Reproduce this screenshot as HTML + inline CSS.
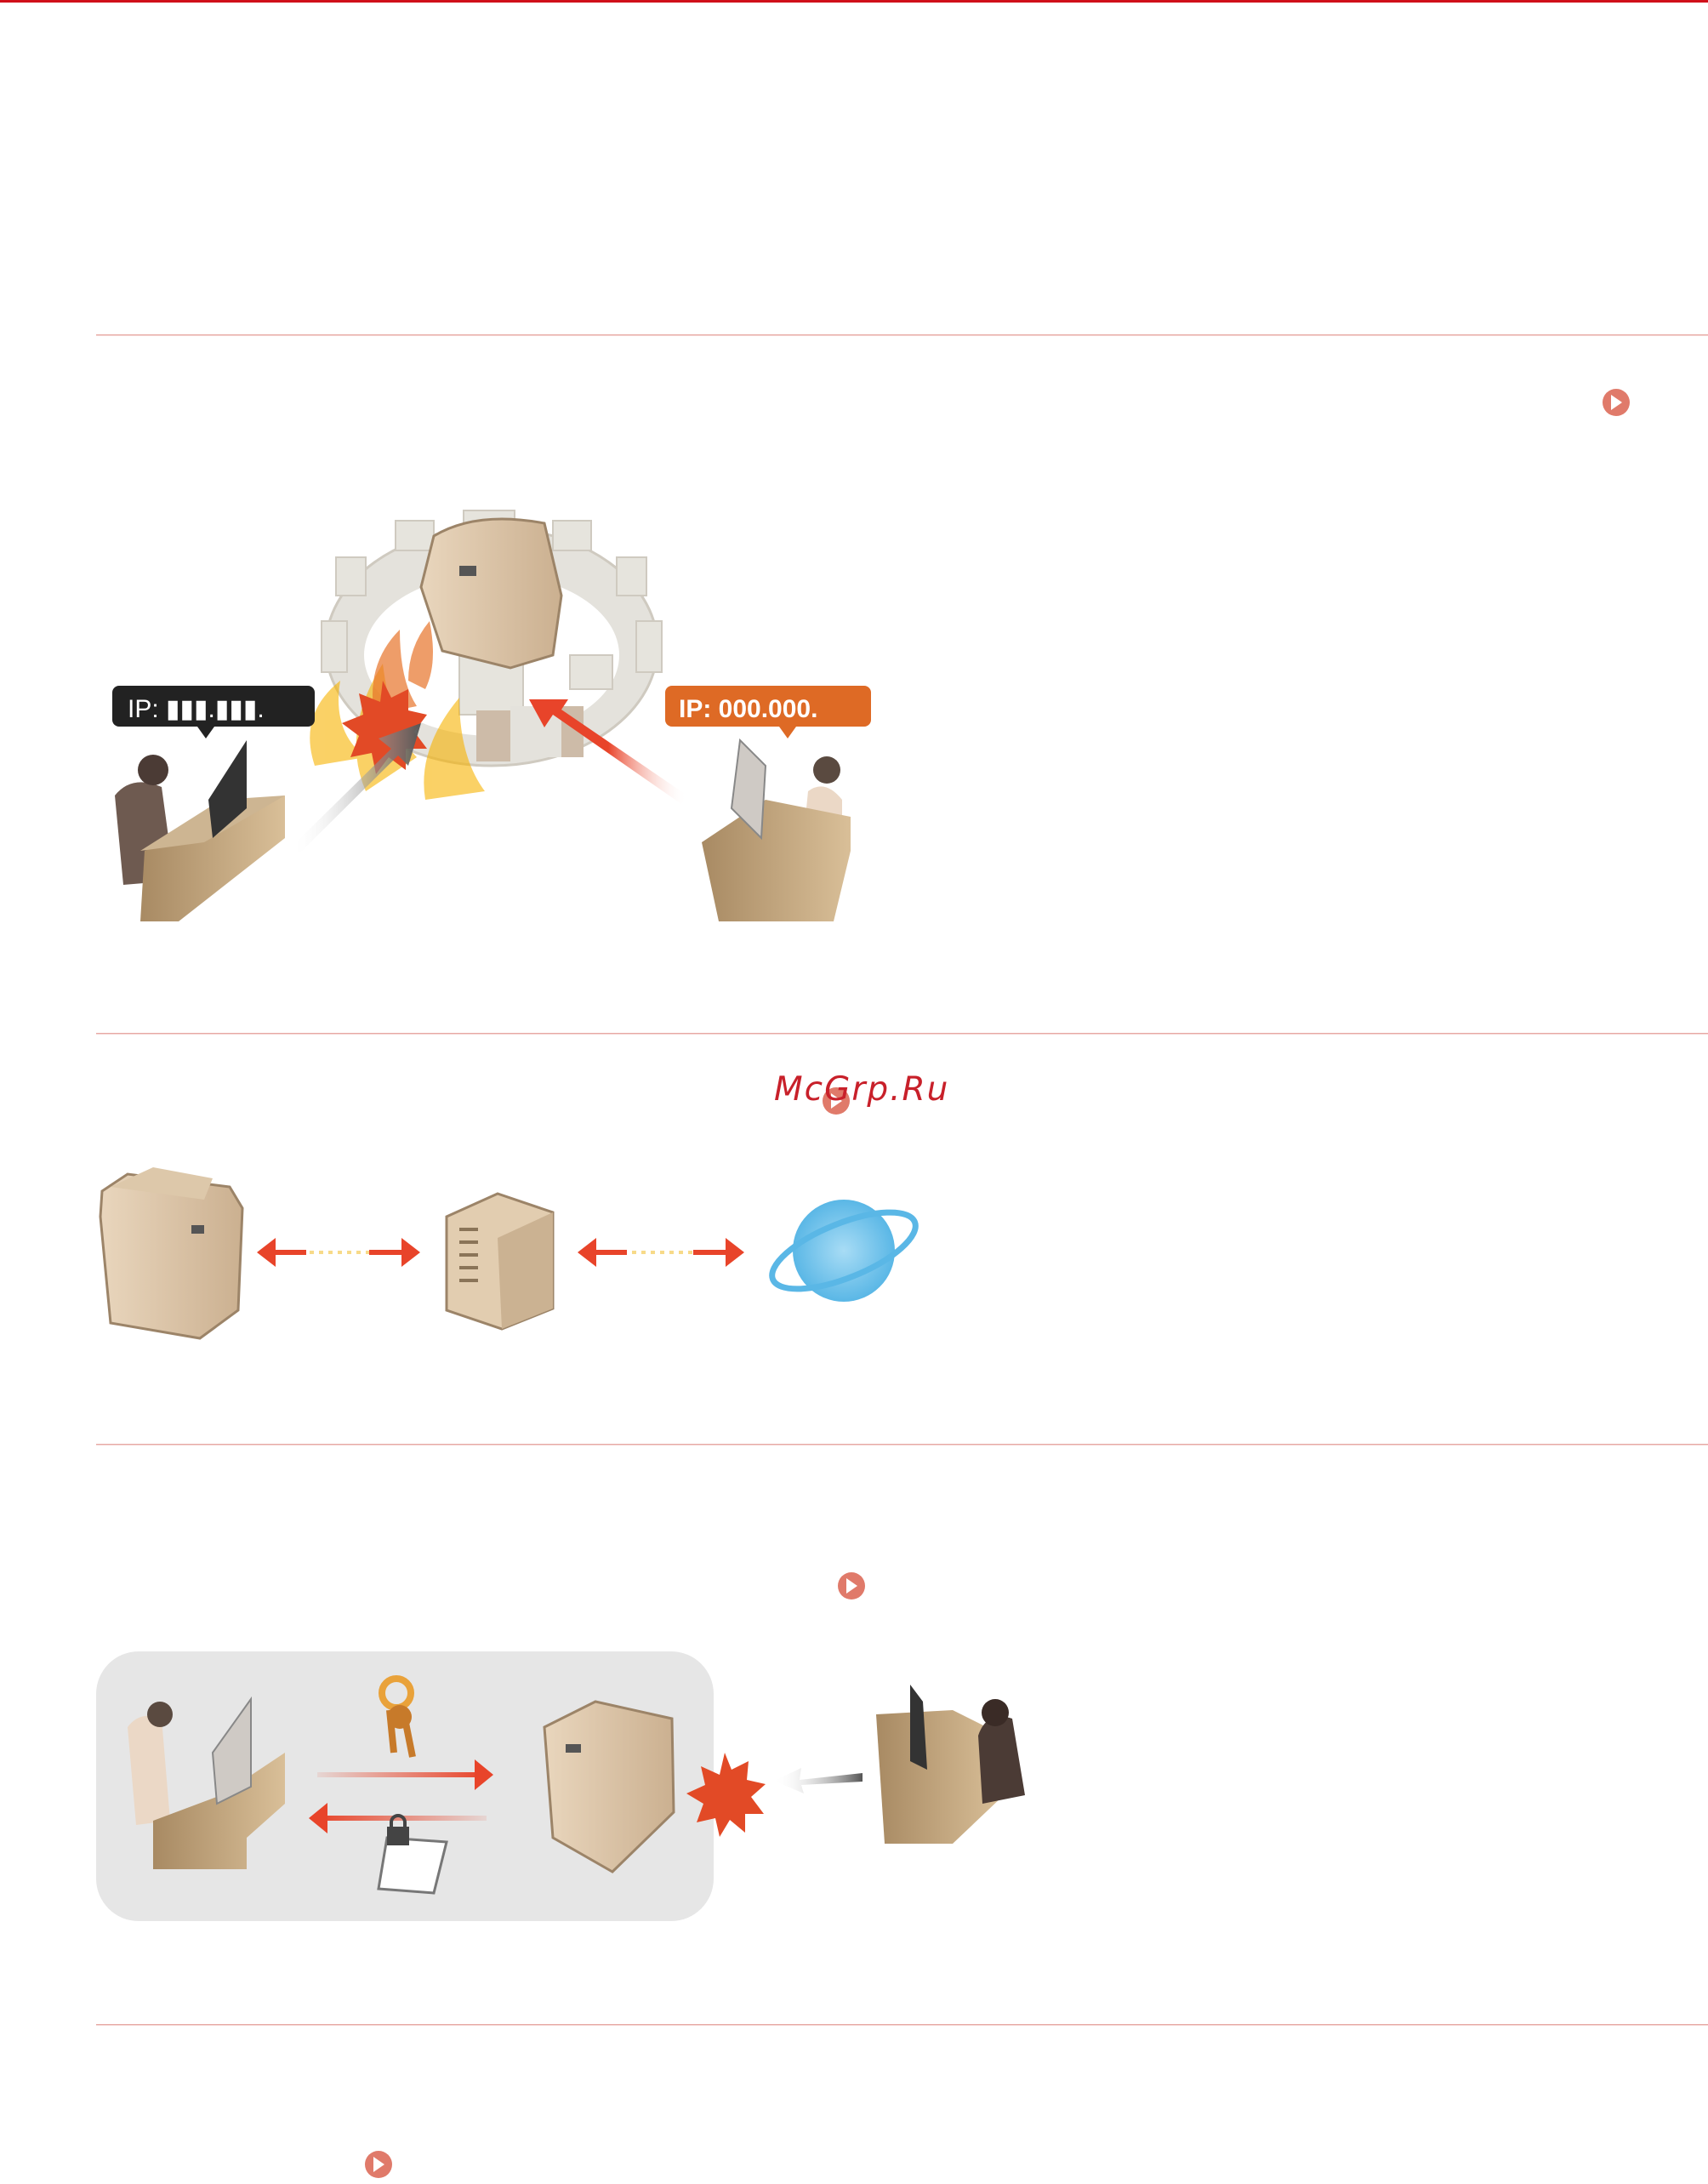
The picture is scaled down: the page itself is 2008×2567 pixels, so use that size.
<!DOCTYPE html>
<html><head><meta charset="utf-8"><style>
html,body{margin:0;padding:0;background:#fff;}
body{width:2008px;height:2567px;position:relative;overflow:hidden;font-family:"Liberation Sans",sans-serif;}
.wm{position:absolute;left:910px;top:1258px;font-size:39px;font-style:italic;color:#c8202a;letter-spacing:2px;font-family:"DejaVu Sans","Liberation Sans",sans-serif;}
</style></head><body>
<svg width="2008" height="2567" viewBox="0 0 2008 2567" style="position:absolute;left:0;top:0">
<defs>
<linearGradient id="desk" x1="0" x2="1"><stop offset="0" stop-color="#a88a63"/><stop offset="1" stop-color="#d9bf98"/></linearGradient>
<linearGradient id="prn" x1="0" x2="1"><stop offset="0" stop-color="#e9d6bd"/><stop offset="1" stop-color="#cbb090"/></linearGradient>
<linearGradient id="ga" x1="0" x2="1"><stop offset="0" stop-color="#fff" stop-opacity="0"/><stop offset="1" stop-color="#555"/></linearGradient>
<linearGradient id="ra" x1="1" x2="0"><stop offset="0" stop-color="#fff" stop-opacity="0"/><stop offset=".5" stop-color="#e8442a"/></linearGradient>
<linearGradient id="rl" x1="0" x2="1"><stop offset="0" stop-color="#e8442a" stop-opacity="0.1"/><stop offset="1" stop-color="#e8442a"/></linearGradient>
<linearGradient id="rr" x1="1" x2="0"><stop offset="0" stop-color="#e8442a" stop-opacity="0.1"/><stop offset="1" stop-color="#e8442a"/></linearGradient>
<radialGradient id="glb"><stop offset="0" stop-color="#a8dcf5"/><stop offset="1" stop-color="#5ab7e6"/></radialGradient>
</defs>
<rect x="0" y="0" width="2008" height="3" fill="#d0101a"/>
<g fill="#e7a9a4"><rect x="113" y="393" width="1895" height="1.5"/><rect x="113" y="1214" width="1895" height="1.5"/><rect x="113" y="1697" width="1895" height="1.5"/><rect x="113" y="2379" width="1895" height="1.5"/></g>
<g fill="#e07a6a"><circle cx="1900" cy="473" r="16"/><circle cx="983" cy="1294" r="16"/><circle cx="1001" cy="1864" r="16"/><circle cx="445" cy="2544" r="16"/></g>
<g fill="#fff"><path d="M1894 464l13 9-13 9z"/><path d="M977 1285l13 9-13 9z"/><path d="M995 1855l13 9-13 9z"/><path d="M439 2535l13 9-13 9z"/></g>

<!-- Illustration 1 -->
<ellipse cx="578" cy="760" rx="195" ry="140" fill="#e4e2dc" stroke="#cfcac0" stroke-width="3"/>
<ellipse cx="578" cy="770" rx="150" ry="95" fill="#fff"/>
<g fill="#e6e4dd" stroke="#cfcac0" stroke-width="2">
<rect x="545" y="600" width="60" height="25"/><rect x="465" y="612" width="45" height="35"/><rect x="650" y="612" width="45" height="35"/><rect x="395" y="655" width="35" height="45"/><rect x="725" y="655" width="35" height="45"/><rect x="378" y="730" width="30" height="60"/><rect x="748" y="730" width="30" height="60"/>
<rect x="540" y="770" width="75" height="70"/><rect x="670" y="770" width="50" height="40"/>
</g>
<rect x="560" y="835" width="40" height="60" fill="#cdbba8"/><rect x="658" y="830" width="28" height="60" fill="#cdbba8"/><rect x="600" y="830" width="60" height="60" fill="#e4e2dc"/>
<path d="M510 630 Q560 600 640 615 L660 700 L650 770 L600 785 L520 765 L495 690Z" fill="url(#prn)" stroke="#9c8468" stroke-width="3"/>
<rect x="540" y="665" width="20" height="12" fill="#555"/>
<g fill="#f7b300" opacity=".6"><path d="M370 900 q-20 -60 30 -100 q-10 60 30 90z"/><path d="M430 930 q-30 -70 20 -150 q10 80 40 110z"/><path d="M500 940 q-10 -60 40 -120 q0 70 30 110z"/></g>
<g fill="#e8742a" opacity=".7"><path d="M440 840 q-10 -60 30 -100 q0 60 20 90z"/><path d="M480 800 q0 -40 25 -70 q10 50 -5 80z"/></g>
<path d="M450 800 l10 20 20-10 0 25 22 5-15 20 15 20-25 0 0 25-20-15-15 20-5-25-25 5 10-25-20-15 25-10-5-25 25 10z" fill="#e24a26"/>
<polygon points="343,995 460,880 445,868 495,850 480,900 468,888 352,1003" fill="url(#ga)"/>
<polygon points="801,945 650,840 640,855 622,822 668,822 660,834 808,935" fill="url(#ra)"/>
<rect x="132" y="806" width="238" height="48" rx="8" fill="#222"/><path d="M232 854l10 14 10-14z" fill="#222"/>
<text x="150" y="843" font-size="30" fill="#fff" font-family="Liberation Sans">IP: ▮▮▮.▮▮▮.</text>
<rect x="782" y="806" width="242" height="48" rx="8" fill="#de6a25"/><path d="M916 854l10 14 10-14z" fill="#de6a25"/>
<text x="798" y="843" font-size="30" fill="#fff" font-weight="bold" font-family="Liberation Sans">IP: 000.000.</text>
<path d="M135 935 q20 -25 55 -10 l15 110 -60 5z" fill="#6e5a50"/><circle cx="180" cy="905" r="18" fill="#4b3b35"/>
<path d="M170 1000 L335 935 L335 985 L210 1083 L165 1083Z" fill="url(#desk)"/><path d="M165 1000 L240 990 L335 935 L260 940Z" fill="#cdb592"/>
<path d="M245 940 L290 870 L290 950 L250 985Z" fill="#333"/>
<path d="M990 940 q-20 -25 -40 -10 l-10 100 50 5z" fill="#ebd8c6"/><circle cx="972" cy="905" r="16" fill="#5a4a40"/>
<path d="M825 990 L900 940 L1000 960 L1000 1000 L980 1083 L845 1083Z" fill="url(#desk)"/>
<path d="M860 950 L870 870 L900 900 L895 985Z" fill="#cfcac5" stroke="#888" stroke-width="2"/>

<!-- Illustration 2 -->
<path d="M120 1400 L150 1380 L270 1395 L285 1420 L280 1540 L235 1573 L130 1555 L118 1430Z" fill="url(#prn)" stroke="#9c8468" stroke-width="3"/>
<path d="M130 1395 L180 1372 L250 1385 L240 1410 Z" fill="#ddc8aa"/><rect x="225" y="1440" width="15" height="10" fill="#555"/>
<path d="M525 1430 L585 1403 L650 1425 L650 1538 L590 1562 L525 1540Z" fill="#e2cdb0" stroke="#9c8468" stroke-width="3"/>
<path d="M585 1455 L650 1425 L650 1538 L590 1562Z" fill="#cbb292"/>
<g stroke="#8a7458" stroke-width="4"><path d="M540 1445h22M540 1460h22M540 1475h22M540 1490h22M540 1505h22"/></g>
<path d="M320 1472h150" stroke="url(#rl)" stroke-width="6" stroke-dasharray="6 6"/>
<path d="M320 1472h160M710 1472h150" stroke="#f2c33b" stroke-width="4" stroke-dasharray="5 6" opacity=".6"/>
<path d="M302 1472l22-17v34z M494 1472l-22-17v34z M679 1472l22-17v34z M875 1472l-22-17v34z" fill="#e8442a"/>
<path d="M320 1472h40M434 1472h40M697 1472h40M815 1472h40" stroke="#e8442a" stroke-width="6"/>
<circle cx="992" cy="1470" r="60" fill="url(#glb)"/>
<ellipse cx="992" cy="1470" rx="90" ry="32" fill="none" stroke="#5ab7e6" stroke-width="7" transform="rotate(-22 992 1470)"/>

<!-- Illustration 3 -->
<rect x="113" y="1941" width="726" height="317" rx="50" fill="#e6e6e6"/>
<path d="M150 2030 q15 -20 40 -10 l10 120 -40 5z" fill="#ebd8c6"/><circle cx="188" cy="2015" r="15" fill="#5a4a40"/>
<path d="M180 2140 L260 2110 L335 2060 L335 2120 L290 2160 L290 2197 L180 2197Z" fill="url(#desk)"/>
<path d="M250 2060 L295 1997 L295 2100 L255 2120Z" fill="#cfcac5" stroke="#888" stroke-width="2"/>
<circle cx="466" cy="1990" r="17" fill="none" stroke="#e9a23a" stroke-width="8"/>
<path d="M458 2010 l5 50 M475 2015 l10 50" stroke="#c77a2a" stroke-width="8"/><circle cx="470" cy="2018" r="14" fill="#c77a2a"/>
<rect x="373" y="2083" width="195" height="6" fill="url(#rl)"/><path d="M580 2086l-22-18v36z" fill="#e8442a"/>
<rect x="375" y="2134" width="197" height="6" fill="url(#rr)"/><path d="M363 2137l22-18v36z" fill="#e8442a"/>
<path d="M455 2160 L525 2165 L510 2225 L445 2220Z" fill="#fff" stroke="#777" stroke-width="3"/>
<rect x="455" y="2147" width="26" height="22" fill="#444"/><path d="M460 2150 v-8 a8 8 0 0 1 16 0 v8" stroke="#444" stroke-width="4" fill="none"/>
<path d="M640 2030 L700 2000 L790 2020 L792 2130 L720 2200 L650 2160Z" fill="url(#prn)" stroke="#9c8468" stroke-width="3"/>
<rect x="665" y="2050" width="18" height="10" fill="#555"/>
<path d="M852 2060 l8 20 20-10 -2 22 22 5-17 15 15 20-22 0 0 22-18-15-12 20-5-22-22 5 8-22-20-12 22-10-5-22 22 10z" fill="#e24a26"/>
<polygon points="1014,2084 940,2092 942,2078 910,2093 945,2108 942,2098 1014,2094" fill="url(#ga)"/>
<path d="M1030 2015 L1120 2010 L1180 2040 L1180 2110 L1120 2167 L1040 2167Z" fill="url(#desk)"/>
<path d="M1085 2000 L1070 1980 L1070 2070 L1090 2080Z" fill="#333"/>
<path d="M1150 2040 q10 -30 40 -20 l15 90 -50 10z" fill="#4b3b35"/><circle cx="1170" cy="2013" r="16" fill="#3a2b26"/>
</svg>
<div class="wm">McGrp.Ru</div>
</body></html>
